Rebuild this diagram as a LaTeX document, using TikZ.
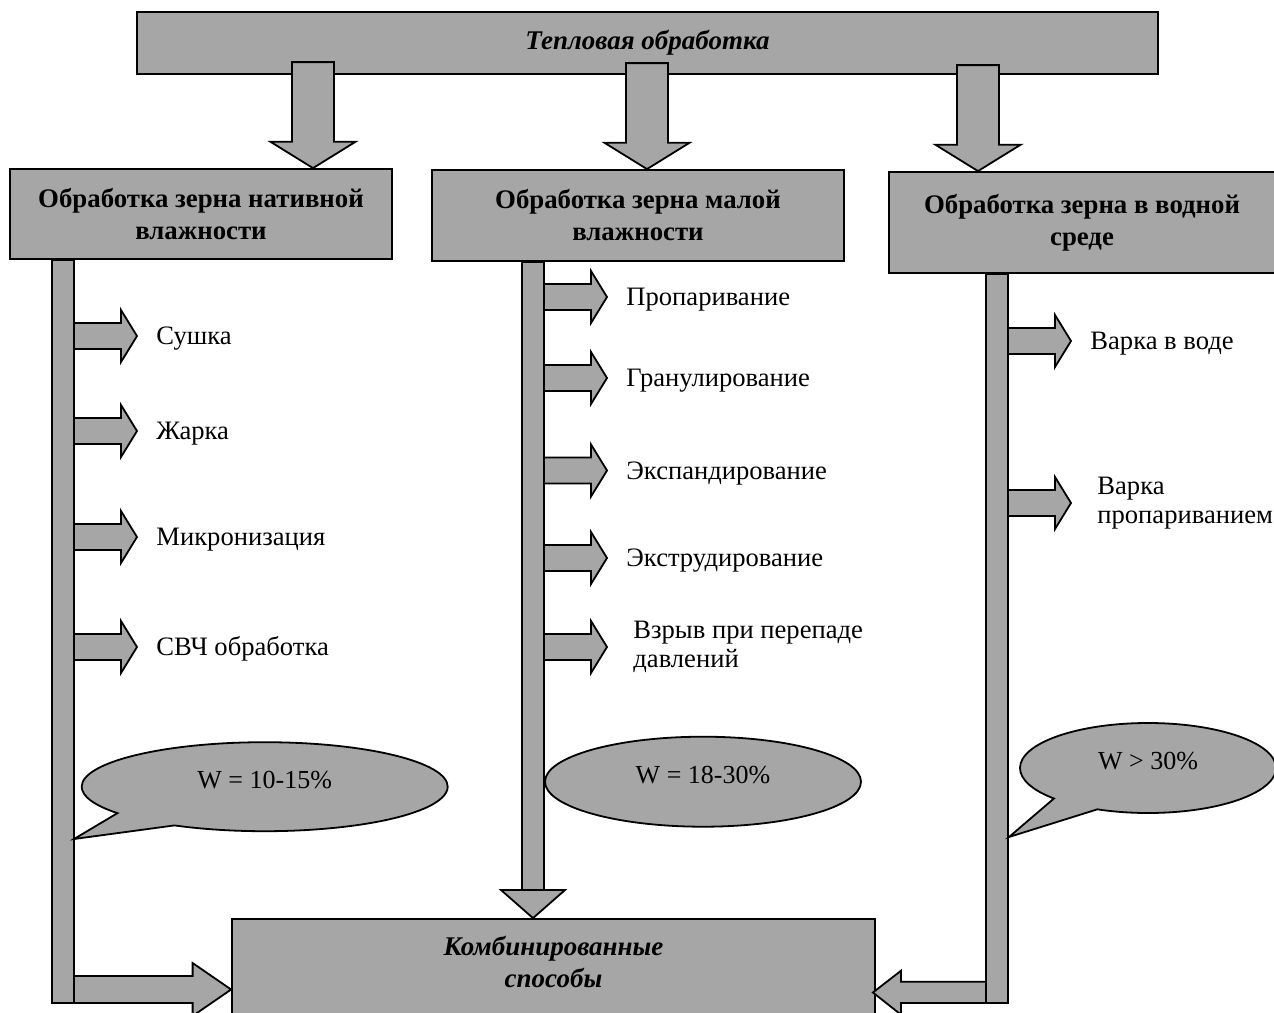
\documentclass[tikz,border=0pt]{standalone}
\usepackage{fontspec}
\setmainfont{Liberation Serif}
\usetikzlibrary{calc,shapes.geometric,shapes.callouts,positioning}
\definecolor{fillgray}{RGB}{166,166,166}
\tikzstyle{blk}=[draw=black,fill=fillgray,line width=0.9pt,line join=miter]
\tikzstyle{box}=[blk,inner sep=0pt,align=center,font=\bfseries\fontsize{13.4}{16}\selectfont]
\tikzstyle{boxit}=[inner sep=0pt,align=center,font=\bfseries\itshape\fontsize{13.5}{16}\selectfont]
\tikzstyle{item}=[anchor=west,inner sep=0pt,text height=8.8pt,text depth=0pt]
\tikzstyle{item2}=[anchor=west,inner sep=0pt,align=left]
\tikzstyle{wtext}=[blk,inner sep=0pt,text height=8.6pt,text depth=7pt,font=\fontsize{13}{14.5}\selectfont]
\tikzstyle{wcall}=[wtext,ellipse callout,callout pointer arc=24]
% block arrows: \dnarrow{tip}, \branch{start on the bar}
\newcommand{\dnarrow}[1]{\draw[blk] (#1) ++(-21,-106) -- ++(42,0) -- ++(0,79.7) -- ++(21.5,0) -- ++(-42.5,26.3) -- ++(-42.5,-26.3) -- ++(21.5,0) -- cycle;}
\newcommand{\branch}[1]{\draw[blk] (#1) ++(0,-13) -- ++(47,0) -- ++(0,-13) -- ++(16,26) -- ++(-16,26) -- ++(0,-13) -- ++(-47,0) -- cycle;}

\begin{document}
\begin{tikzpicture}[x=0.5pt,y=-0.5pt,font=\fontsize{13.3}{14.5}\selectfont]
  \useasboundingbox (0,0) rectangle (1274,1012);
  \clip (0,0) rectangle (1274,1012);
  % boxes
  \node[box,minimum width=510.5pt,minimum height=31pt,font=\bfseries\itshape\fontsize{13.5}{16}\selectfont] (heat) at (647.5,43) {Тепловая обработка};
  \node[box,minimum width=191pt,minimum height=45pt] (nat) at (201,214) {Обработка зерна нативной\\влажности};
  \node[box,minimum width=206pt,minimum height=45.5pt] (low) at (638,215.5) {Обработка зерна малой\\влажности};
  \node[box,minimum width=193pt,minimum height=50.5pt] (wat) at (1082,222.5) {Обработка зерна в водной\\среде};
  \node[box,minimum width=321.5pt,minimum height=70.5pt] (comb) at (553.5,989.5) {};
  \node[boxit] (combtxt) at (553.5,962) {Комбинированные\\способы};
  \dnarrow{313,0 |- nat.north}
  \dnarrow{647,0 |- low.north}
  \dnarrow{978,0 |- wat.north}
  % bars
  \draw[blk] (52,0 |- nat.south) rectangle (74,1003);
  \draw[blk] (522,0 |- low.south) rectangle (544,890);
  \draw[blk] (986,0 |- wat.south) rectangle (1008,1003);
  \draw[blk] (501,890) -- (565,890) -- (533,0 |- comb.north) -- cycle;
  \draw[blk] (74,976) -- (192.6,976) -- (192.6,963) -- (comb.west) -- (192.6,1016) -- (192.6,1003) -- (74,1003) -- cycle;
  \draw[blk] (986,981.7) -- (901,981.7) -- (901,970.7) -- ($(comb.east)+(-3,3)$) -- (901,1014.7) -- (901,1003) -- (986,1003) -- cycle;
  % native moisture
  \foreach \n/\t/\y in {dry/Сушка/336, roast/Жарка/431, micro/Микронизация/537, uhf/СВЧ обработка/647}{
    \node[item] (\n) at (156,\y) {\t};
    \branch{74,0 |- \n.west}
  }
  % low moisture
  \foreach \n/\t/\y in {steam/Пропаривание/297, gran/Гранулирование/378, expand/Экспандирование/470.5, extr/Экструдирование/558}{
    \node[item] (\n) at (626,\y) {\t};
    \branch{544,0 |- \n.west}
  }
  \node[item2] (burst) at (633,647) {Взрыв при перепаде\\давлений};
  \branch{544,0 |- burst.west}
  % water
  \node[item] (boil) at (1090,341) {Варка в воде};
  \branch{1008,0 |- boil.west}
  \node[item2] (steamb) at (1097,503) {Варка\\пропариванием};
  \branch{1008,0 |- steamb.west}
  % moisture bubbles
  \coordinate (p1) at (74,839);
  \coordinate (p3) at (1009,837);
  \node[wcall,minimum width=183pt,minimum height=44.5pt,callout absolute pointer=(p1)] (w1) at (264.7,786.7) {W = 10-15\%};
  \node[wtext,ellipse,minimum width=158pt,minimum height=45pt] (w2) at (703,781.7) {W = 18-30\%};
  \node[wcall,minimum width=128pt,minimum height=45pt,callout absolute pointer=(p3)] (w3) at (1148,768) {W > 30\%};
\end{tikzpicture}
\end{document}
